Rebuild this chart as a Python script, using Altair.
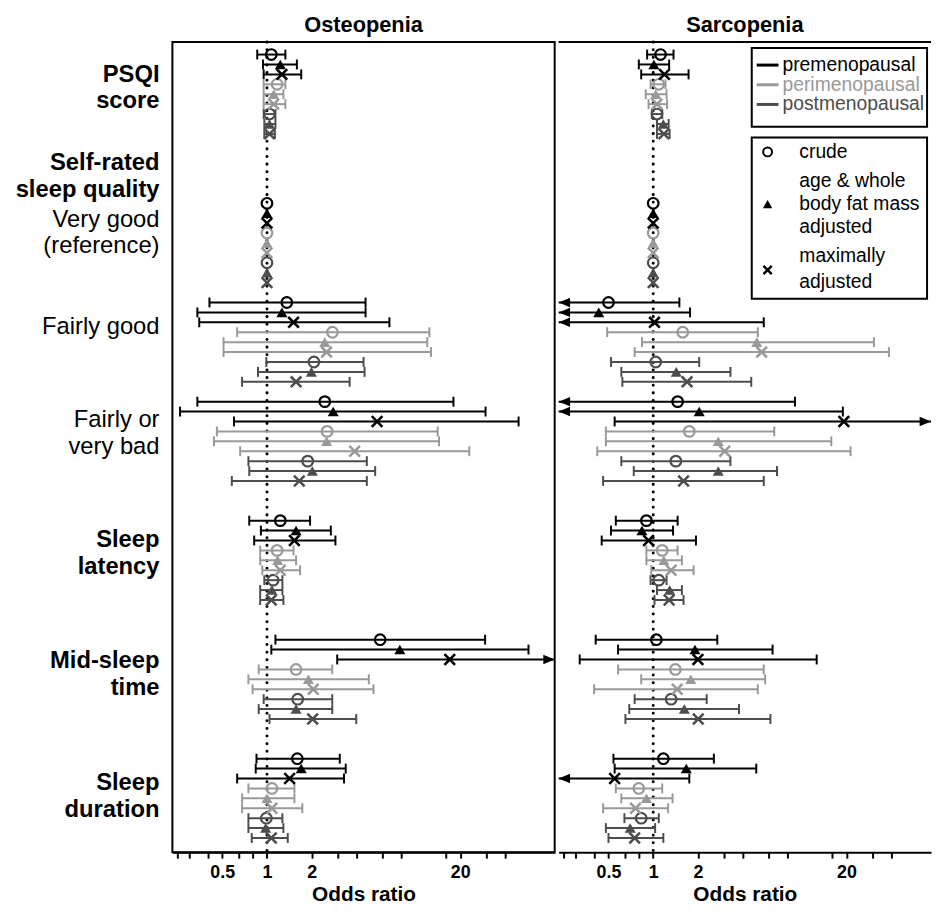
import altair as alt
import pandas as pd
import numpy as np

FONT = "Liberation Sans"

panels = ["Osteopenia", "Sarcopenia"]
groups = ["PSQI score", "Very good (reference)", "Fairly good", "Fairly or very bad",
          "Sleep latency", "Mid-sleep time", "Sleep duration"]
statuses = ["premenopausal", "perimenopausal", "postmenopausal"]
models = ["crude", "age & whole body fat mass adjusted", "maximally adjusted"]
status_colors = ["#000000", "#999999", "#4d4d4d"]

# 9 values per group: (pre, peri, post) x (crude, age & fat adjusted, maximally adjusted)
# None = confidence bound beyond the axis range (drawn as an arrow)
REF = [1.0] * 9
NOCI = [None] * 9

osteo_or = {
    "PSQI score": [1.07, 1.23, 1.26, 1.17, 1.11, 1.11, 1.04, 1.04, 1.04],
    "Very good (reference)": REF,
    "Fairly good": [1.36, 1.26, 1.51, 2.76, 2.45, 2.52, 2.07, 1.99, 1.57],
    "Fairly or very bad": [2.45, 2.79, 5.51, 2.54, 2.52, 3.89, 1.88, 2.02, 1.65],
    "Sleep latency": [1.23, 1.57, 1.53, 1.17, 1.18, 1.23, 1.10, 1.08, 1.07],
    "Mid-sleep time": [5.78, 7.84, 17.0, 1.57, 1.90, 2.05, 1.61, 1.57, 2.03],
    "Sleep duration": [1.60, 1.70, 1.42, 1.08, 1.00, 1.08, 0.99, 0.98, 1.07],
}
osteo_lo = {
    "PSQI score": [0.86, 0.94, 0.95, 0.95, 0.95, 0.95, 0.95, 0.96, 0.96],
    "Very good (reference)": NOCI,
    "Fairly good": [0.41, 0.34, 0.35, 0.63, 0.51, 0.51, 0.99, 0.87, 0.68],
    "Fairly or very bad": [0.34, 0.26, 0.60, 0.46, 0.44, 0.66, 0.75, 0.76, 0.58],
    "Sleep latency": [0.76, 0.91, 0.82, 0.90, 0.90, 0.93, 0.96, 0.90, 0.90],
    "Mid-sleep time": [1.14, 1.07, 2.97, 0.88, 0.75, 0.80, 0.95, 0.88, 1.04],
    "Sleep duration": [0.85, 0.84, 0.63, 0.75, 0.68, 0.68, 0.75, 0.75, 0.79],
}
osteo_hi = {
    "PSQI score": [1.33, 1.59, 1.70, 1.33, 1.29, 1.33, 1.14, 1.14, 1.13],
    "Very good (reference)": NOCI,
    "Fairly good": [4.61, 4.61, 6.67, 12.4, 12.0, 12.7, 4.47, 4.54, 3.60],
    "Fairly or very bad": [18.0, 29.6, 49.4, 14.1, 14.4, 23.0, 4.70, 5.35, 4.70],
    "Sleep latency": [1.95, 2.69, 2.89, 1.51, 1.57, 1.67, 1.27, 1.27, 1.29],
    "Mid-sleep time": [29.4, 57.6, None, 2.75, 4.85, 5.21, 2.75, 2.75, 3.99],
    "Sleep duration": [3.09, 3.39, 3.30, 1.53, 1.53, 1.73, 1.27, 1.29, 1.38],
}

sarco_or = {
    "PSQI score": [1.12, 1.01, 1.19, 1.09, 1.04, 1.06, 1.06, 1.17, 1.18],
    "Very good (reference)": REF,
    "Fairly good": [0.50, 0.43, 1.02, 1.58, 4.98, 5.37, 1.04, 1.43, 1.69],
    "Fairly or very bad": [1.46, 2.04, 19.2, 1.75, 2.74, 3.03, 1.42, 2.74, 1.60],
    "Sleep latency": [0.90, 0.84, 0.93, 1.15, 1.18, 1.32, 1.09, 1.29, 1.28],
    "Mid-sleep time": [1.05, 1.91, 2.00, 1.41, 1.79, 1.45, 1.32, 1.62, 2.01],
    "Sleep duration": [1.17, 1.67, 0.55, 0.80, 0.90, 0.76, 0.83, 0.70, 0.75],
}
sarco_lo = {
    "PSQI score": [0.91, 0.80, 0.83, 0.96, 0.89, 0.93, 0.98, 1.06, 1.06],
    "Very good (reference)": NOCI,
    "Fairly good": [None, None, None, 0.49, 0.84, 0.75, 0.52, 0.61, 0.62],
    "Fairly or very bad": [None, None, 0.55, 0.48, 0.48, 0.42, 0.61, 0.74, 0.46],
    "Sleep latency": [0.56, 0.52, 0.45, 0.90, 0.90, 0.97, 0.96, 1.06, 1.02],
    "Mid-sleep time": [0.41, 0.58, 0.32, 0.58, 0.83, 0.40, 0.75, 0.69, 0.65],
    "Sleep duration": [0.54, 0.55, None, 0.56, 0.61, 0.46, 0.64, 0.48, 0.50],
}
sarco_hi = {
    "PSQI score": [1.37, 1.28, 1.73, 1.21, 1.23, 1.24, 1.15, 1.27, 1.29],
    "Very good (reference)": NOCI,
    "Fairly good": [1.50, 1.77, 5.55, 5.06, 30.6, 38.6, 2.04, 3.31, 4.57],
    "Fairly or very bad": [9.0, 18.9, None, 6.53, 15.8, 21.3, 3.31, 6.81, 5.55],
    "Sleep latency": [1.46, 1.36, 1.94, 1.46, 1.56, 1.87, 1.23, 1.56, 1.60],
    "Mid-sleep time": [2.70, 6.36, 12.6, 5.55, 5.67, 5.06, 2.29, 3.78, 6.15],
    "Sleep duration": [2.56, 4.94, 1.75, 1.15, 1.35, 1.26, 1.09, 1.03, 1.17],
}

tick_vals = [0.25, 0.3, 0.4, 0.5, 0.65, 0.8, 1, 2, 3, 4, 6, 8, 16, 20, 30, 40]

# ---- layout ----
group_first_row = [0, 15, 25, 35, 47, 59, 71]
Y_DOMAIN = [-1.26, 80.43]
H = 818
REF_H = 823.4                 # plot height of the original figure (px)
UNIT_PX = 10.08               # row spacing of the original figure (px)
FIRST_ROW_PX = 56.0           # first row, original page px
LAB_W = 163
PANEL_W = {"Osteopenia": 386, "Sarcopenia": 376}
XMIN = 0.2309
XMAX = {"Osteopenia": 10 ** ((386 - 95.5) / 150), "Sarcopenia": 10 ** ((376 - 95.5) / 150)}

recs = []
for pname, ors, los, his in [(panels[0], osteo_or, osteo_lo, osteo_hi),
                             (panels[1], sarco_or, sarco_lo, sarco_hi)]:
    xmax = XMAX[pname]
    for gi, g in enumerate(groups):
        has_ci = g != groups[1]
        for k in range(9):
            lo, hi = los[g][k], his[g][k]
            recs.append({
                "panel": pname, "group": g,
                "status": statuses[k // 3], "model": models[k % 3],
                "row": group_first_row[gi] + k,
                "OR": ors[g][k],
                "lo": lo if (has_ci and lo is not None) else np.nan,
                "hi": hi if (has_ci and hi is not None) else np.nan,
                "lo_c": (lo if lo is not None else XMIN) if has_ci else np.nan,
                "hi_c": (hi if hi is not None else xmax) if has_ci else np.nan,
                "larrow": XMIN if (has_ci and lo is None) else np.nan,
                "rarrow": xmax if (has_ci and hi is None) else np.nan,
            })
df = pd.DataFrame(recs)
ref_df = pd.DataFrame({"ref": [1.0]})
one_df = pd.DataFrame({"k": [0]})

label_expr = ("(datum.value==0.5||datum.value==1||datum.value==2||datum.value==20)"
              " ? format(datum.value,'~g') : ''")


def xenc(field, pname):
    return alt.X(field, type="quantitative",
                 scale=alt.Scale(type="log", domain=[XMIN, XMAX[pname]], nice=False),
                 axis=alt.Axis(values=tick_vals, labelExpr=label_expr, title="Odds ratio",
                               titleFont=FONT, titleFontSize=21, titleFontWeight="bold",
                               titleColor="black", titlePadding=2,
                               labelFont=FONT, labelFontSize=18, labelFontWeight="bold",
                               labelColor="black", labelPadding=6, labelOverlap=False,
                               labelFlush=False, tickSize=6, tickWidth=2, tickColor="black",
                               domainColor="black", domainWidth=2, grid=False))


yscale = alt.Scale(domain=Y_DOMAIN, reverse=True, nice=False, zero=False)
yenc = alt.Y("row:Q", scale=yscale, axis=None)
cenc = alt.Color("status:N", scale=alt.Scale(domain=statuses, range=status_colors), legend=None)

title_style = dict(fontSize=22, fontWeight="bold", font=FONT, color="black", offset=4,
                   anchor="middle")

LS = H / REF_H   # legend pixel scale


def panel(pname, with_legend):
    d = df[df.panel == pname]
    base = alt.Chart(d)
    layers = [
        alt.Chart(ref_df).mark_rule(color="black", strokeWidth=3, strokeDash=[0.1, 7.6],
                                    strokeCap="round").encode(x=xenc("ref", pname)),
        base.transform_filter("isValid(datum.lo_c)").mark_rule(strokeWidth=2).encode(
            x=xenc("lo_c", pname), x2="hi_c", y=yenc, color=cenc),
        base.transform_filter("isValid(datum.lo)").mark_point(
            shape="M0,-1L0,1", size=100, strokeWidth=2, filled=False, opacity=1).encode(
            x=xenc("lo", pname), y=yenc, color=cenc),
        base.transform_filter("isValid(datum.hi)").mark_point(
            shape="M0,-1L0,1", size=100, strokeWidth=2, filled=False, opacity=1).encode(
            x=xenc("hi", pname), y=yenc, color=cenc),
        base.transform_filter(alt.datum.model == models[0]).mark_point(
            shape="circle", size=115, strokeWidth=2.2, filled=False, opacity=1).encode(
            x=xenc("OR", pname), y=yenc, color=cenc),
        base.transform_filter(alt.datum.model == models[1]).mark_point(
            shape="triangle-up", size=125, filled=True, opacity=1).encode(
            x=xenc("OR", pname), y=yenc, color=cenc),
        base.transform_filter(alt.datum.model == models[2]).mark_point(
            shape="M-1,-1L1,1M-1,1L1,-1", size=115, strokeWidth=2.6, filled=False,
            opacity=1).encode(x=xenc("OR", pname), y=yenc, color=cenc),
        base.transform_filter("isValid(datum.larrow)").mark_point(
            shape="M0,0L2.3,-0.95L2.3,0.95Z", size=100, filled=True, opacity=1).encode(
            x=xenc("larrow", pname), y=yenc, color=cenc),
        base.transform_filter("isValid(datum.rarrow)").mark_point(
            shape="M0,0L-2.3,-0.95L-2.3,0.95Z", size=100, filled=True, opacity=1).encode(
            x=xenc("rarrow", pname), y=yenc, color=cenc),
    ]
    props = dict(width=PANEL_W[pname], height=H, title=alt.TitleParams(pname, **title_style))
    if with_legend:
        o = alt.Chart(one_df)
        # frame of the cropped right panel: top edge only (left edge shared with left panel)
        layers.append(o.mark_rule(color="black", strokeWidth=2).encode(
            x=alt.value(0), x2=alt.value(PANEL_W[pname]), y=alt.value(0)))
        bx0, bx1 = 195, 372
        layers.append(o.mark_rect(fill="white", stroke="black", strokeWidth=2).encode(
            x=alt.value(bx0), x2=alt.value(bx1), y=alt.value(6 * LS), y2=alt.value(86 * LS)))
        for i, s in enumerate(statuses):
            yy = (23.4 + 20 * i) * LS
            layers.append(o.mark_rule(color=status_colors[i], strokeWidth=3).encode(
                x=alt.value(200), x2=alt.value(222), y=alt.value(yy)))
            layers.append(o.mark_text(text=s, align="left", baseline="middle", font=FONT,
                                      fontSize=19.5, color=status_colors[i]).encode(
                x=alt.value(226), y=alt.value(yy)))
        layers.append(o.mark_rect(fill="white", stroke="black", strokeWidth=2).encode(
            x=alt.value(bx0), x2=alt.value(bx1), y=alt.value(97 * LS), y2=alt.value(261 * LS)))
        marker_y = [111.7, 164.7, 231.7]
        shapes = [dict(shape="circle", size=80, strokeWidth=2, filled=False),
                  dict(shape="triangle-up", size=90, filled=True),
                  dict(shape="M-1,-1L1,1M-1,1L1,-1", size=70, strokeWidth=2.5, filled=False)]
        for yy, sh in zip(marker_y, shapes):
            layers.append(o.mark_point(color="black", opacity=1, **sh).encode(
                x=alt.value(211), y=alt.value(yy * LS)))
        text_lines = ["crude", "age & whole", "body fat mass", "adjusted", "maximally",
                      "adjusted"]
        text_y = [111.7, 141.7, 164.7, 187.7, 217.7, 243.7]
        for t, yy in zip(text_lines, text_y):
            layers.append(o.mark_text(text=t, align="left", baseline="middle", font=FONT,
                                      fontSize=19.5, color="black").encode(
                x=alt.value(243), y=alt.value(yy * LS)))
        props["view"] = alt.ViewBackground(stroke="transparent")
    return alt.layer(*layers).properties(**props)


# ---- row labels (centre of each label block, original page px) ----
label_text = ["PSQI\nscore", "Self-rated\nsleep quality", "Very good\n(reference)",
              "Fairly good", "Fairly or\nvery bad", "Sleep\nlatency", "Mid-sleep\ntime",
              "Sleep\nduration"]
label_bold = [True, True, False, False, False, True, True, True]
label_center_px = [90, 180, 237.5, 333, 441.5, 563.5, 686, 810]
LINE_H = 27
first_line_units = []
for t, c in zip(label_text, label_center_px):
    n = t.count("\n") + 1
    first_px = c - (n - 1) * LINE_H / 2
    first_line_units.append((first_px - FIRST_ROW_PX) / UNIT_PX)
label_df = pd.DataFrame({"text": label_text, "bold": label_bold, "ypos": first_line_units})
lab_base = alt.Chart(label_df)
lab_layers = []
for flag, weight in [(True, "bold"), (False, "normal")]:
    lab_layers.append(
        lab_base.transform_filter(alt.datum.bold == flag).mark_text(
            align="right", baseline="middle", font=FONT, fontSize=24, fontWeight=weight,
            lineBreak="\n", lineHeight=LINE_H * LS, color="black").encode(
            x=alt.value(152), y=alt.Y("ypos:Q", scale=yscale, axis=None),
            text="text:N"))
label_chart = alt.layer(*lab_layers).properties(
    width=LAB_W, height=H, title=alt.TitleParams(" ", **title_style),
    view=alt.ViewBackground(stroke="transparent"))

chart = alt.hconcat(label_chart, panel(panels[0], False), panel(panels[1], True),
                    spacing=0).resolve_scale(x="independent", y="independent").properties(
    padding={"left": 0, "top": 0, "right": 0, "bottom": 0}).configure(
    font=FONT).configure_view(stroke="black", strokeWidth=2)

chart.save("out.html", embed_options={"renderer": "svg", "actions": False})
